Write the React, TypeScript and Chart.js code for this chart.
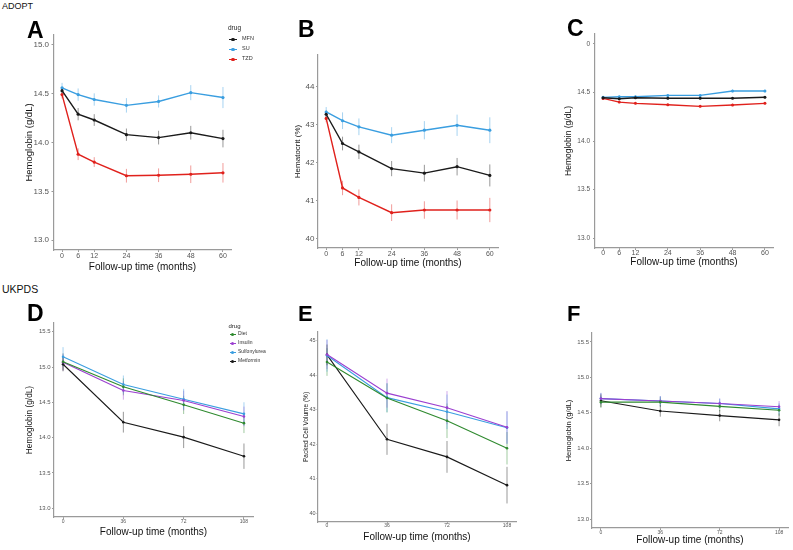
import React, { useEffect, useRef } from "react";
import { Chart, registerables } from "chart.js";
Chart.register(...registerables);

// ---------- data ----------
const adoptMonths = [0, 6, 12, 24, 36, 48, 60];
const ukpdsMonths = [0, 36, 72, 108];

// Panel A: ADOPT hemoglobin (g/dL)
const aMFN = [14.53, 14.29, 14.23, 14.08, 14.05, 14.1, 14.04];
const aMFNErr = [0.034, 0.063, 0.06, 0.063, 0.07, 0.07, 0.09];
const aSU = [14.56, 14.49, 14.44, 14.38, 14.42, 14.51, 14.46];
const aSUErr = [0.05, 0.063, 0.063, 0.074, 0.062, 0.077, 0.108];
const aTZD = [14.49, 13.88, 13.8, 13.66, 13.665, 13.675, 13.69];
const aTZDErr = [0.04, 0.06, 0.05, 0.07, 0.07, 0.09, 0.1];

// Panel B: ADOPT hematocrit (%)
const bMFN = [43.27, 42.5, 42.28, 41.84, 41.72, 41.89, 41.66];
const bMFNErr = [0.1, 0.18, 0.19, 0.2, 0.22, 0.23, 0.29];
const bSU = [43.33, 43.1, 42.94, 42.72, 42.85, 42.98, 42.85];
const bSUErr = [0.13, 0.22, 0.22, 0.21, 0.24, 0.28, 0.34];
const bTZD = [43.16, 41.33, 41.08, 40.68, 40.75, 40.75, 40.75];
const bTZDErr = [0.1, 0.19, 0.21, 0.22, 0.23, 0.25, 0.32];

// Panel C: ADOPT hemoglobin, adjusted
const cMFN = [14.445, 14.435, 14.445, 14.44, 14.44, 14.44, 14.449];
const cMFNErr = [0.012, 0.012, 0.012, 0.012, 0.012, 0.012, 0.012];
const cSU = [14.449, 14.455, 14.455, 14.469, 14.469, 14.514, 14.514];
const cSUErr = [0.012, 0.012, 0.012, 0.012, 0.012, 0.014, 0.014];
const cTZD = [14.438, 14.4, 14.387, 14.373, 14.356, 14.37, 14.387];
const cTZDErr = [0.012, 0.012, 0.012, 0.012, 0.012, 0.012, 0.012];

// Panel D: UKPDS hemoglobin (g/dL)
const dDiet = [15.075, 14.72, 14.465, 14.205];
const dDietErr = [0.12, 0.12, 0.13, 0.14];
const dInsulin = [15.07, 14.668, 14.526, 14.3];
const dInsulinErr = [0.12, 0.13, 0.14, 0.14];
const dSulf = [15.146, 14.753, 14.545, 14.337];
const dSulfErr = [0.137, 0.128, 0.146, 0.165];
const dMet = [15.04, 14.219, 14.007, 13.737];
const dMetErr = [0.1, 0.147, 0.155, 0.18];

// Panel E: UKPDS packed cell volume (%)
const eDiet = [44.38, 43.34, 42.68, 41.885];
const eDietErr = [0.4, 0.42, 0.5, 0.47];
const eInsulin = [44.6, 43.48, 43.06, 42.49];
const eInsulinErr = [0.42, 0.42, 0.48, 0.47];
const eSulf = [44.57, 43.35, 42.94, 42.48];
const eSulfErr = [0.47, 0.42, 0.5, 0.47];
const eMet = [44.587, 42.144, 41.635, 40.817];
const eMetErr = [0.3, 0.45, 0.46, 0.53];

// Panel F: UKPDS hemoglobin, adjusted
const fDiet = [14.65, 14.65, 14.59, 14.535];
const fDietErr = [0.08, 0.07, 0.07, 0.08];
const fInsulin = [14.7, 14.665, 14.63, 14.585];
const fInsulinErr = [0.08, 0.07, 0.07, 0.08];
const fSulf = [14.7, 14.665, 14.63, 14.555];
const fSulfErr = [0.08, 0.07, 0.07, 0.08];
const fMet = [14.67, 14.525, 14.46, 14.4];
const fMetErr = [0.09, 0.08, 0.08, 0.09];

// tick values / labels
const hbTicksAB = [13, 13.5, 14, 14.5, 15];
const hbLabelsA = ["13.0", "13.5", "14.0", "14.5", "15.0"];
const hbLabelsC = ["13.0", "13.5", "14.0", "14.5", "0"];
const hctTicks = [40, 41, 42, 43, 44];
const hctLabels = ["40", "41", "42", "43", "44"];
const hbTicksUK = [13, 13.5, 14, 14.5, 15, 15.5];
const hbLabelsUK = ["13.0", "13.5", "14.0", "14.5", "15.0", "15.5"];
const pcvTicks = [40, 41, 42, 43, 44, 45];
const pcvLabels = ["40", "41", "42", "43", "44", "45"];

const adoptDrugs = ["MFN", "SU", "TZD"];
const ukpdsDrugs = ["Diet", "Insulin", "Sulfonylurea", "Metformin"];

const xTitleText = "Follow-up time (months)";

// ---------- styles ----------
const FONT = "'Liberation Sans', Arial, Helvetica, sans-serif";
const COL = {
  black: "#1a1a1a",
  blue: "#3a9ee0",
  red: "#e0211c",
  green: "#2f8a2f",
  purple: "#9b3fd0",
};
const adoptColors = [COL.black, COL.blue, COL.red];
const ukpdsColors = [COL.green, COL.purple, COL.blue, COL.black];

type Series = { label: string; color: string; values: number[]; errors: number[] };
type PanelCfg = {
  area: { l: number; t: number; r: number; b: number };
  yMin: number; yMax: number; yTicks: number[]; yLabels: string[];
  xMin: number; xMax: number; xTicks: number[];
  yTitle: string; yTitleSize: number; yTitleX: number;
  yTickSize: number; yTickLen: number; yTickPad: number;
  xTickSize: number; xTickLen: number; xTickPad: number;
  xTitleY: number; xTitleSize: number;
  lineWidth: number; pointRadius: number;
  padRight?: number;
  series: Series[];
};

const errorBarPlugin = {
  id: "errorBars",
  beforeDatasetsDraw(chart: any) {
    const { ctx } = chart;
    const x = chart.scales.x;
    const y = chart.scales.y;
    chart.data.datasets.forEach((ds: any) => {
      const errs: number[] = ds.errors;
      if (!errs) return;
      ctx.save();
      ctx.strokeStyle = ds.errColor;
      ctx.lineWidth = 1;
      ds.data.forEach((p: any, j: number) => {
        const px = x.getPixelForValue(p.x);
        ctx.beginPath();
        ctx.moveTo(px, y.getPixelForValue(p.y - errs[j]));
        ctx.lineTo(px, y.getPixelForValue(p.y + errs[j]));
        ctx.stroke();
      });
      ctx.restore();
    });
  },
};

function hexA(hex: string, a: number) {
  const n = parseInt(hex.slice(1), 16);
  return `rgba(${(n >> 16) & 255},${(n >> 8) & 255},${n & 255},${a})`;
}

function Panel({ cfg, months }: { cfg: PanelCfg; months: number[] }) {
  const ref = useRef<HTMLCanvasElement>(null);
  const PT = 10;
  const PR = cfg.padRight ?? 6;
  const { l, t, r, b } = cfg.area;
  const lh = cfg.yTitleSize * 1.2;
  const canvasLeft = Math.round(cfg.yTitleX - lh / 2);
  const YW = l - canvasLeft;
  const canvasTop = t - PT;
  const xlh = cfg.xTitleSize * 1.2;
  const height = Math.round(cfg.xTitleY + xlh / 2 - canvasTop);
  const XH = height - (b - canvasTop);
  const width = Math.round(r + PR - canvasLeft);
  const padRightInner = width - (r - canvasLeft);

  useEffect(() => {
    if (!ref.current) return;
    const axisColor = "#9a9a9a";
    const chart = new Chart(ref.current, {
      type: "line",
      data: {
        datasets: cfg.series.map((s) => ({
          label: s.label,
          data: months.map((m, i) => ({ x: m, y: s.values[i] })),
          errors: s.errors,
          errColor: hexA(s.color, 0.45),
          borderColor: s.color,
          backgroundColor: s.color,
          borderWidth: cfg.lineWidth,
          pointRadius: cfg.pointRadius,
          pointBorderWidth: 0,
          pointBackgroundColor: s.color,
          tension: 0,
        })) as any,
      },
      options: {
        animation: false,
        responsive: false,
        maintainAspectRatio: false,
        devicePixelRatio: 1,
        layout: { padding: { left: 0, top: PT, right: padRightInner, bottom: 0 } },
        plugins: { legend: { display: false }, tooltip: { enabled: false } },
        scales: {
          x: {
            type: "linear",
            min: cfg.xMin,
            max: cfg.xMax,
            afterBuildTicks: (s: any) => {
              s.ticks = cfg.xTicks.map((v) => ({ value: v }));
            },
            afterFit: (s: any) => {
              s.height = XH;
            },
            ticks: {
              autoSkip: false,
              maxRotation: 0,
              minRotation: 0,
              padding: cfg.xTickPad,
              color: "#555",
              font: { family: FONT, size: cfg.xTickSize },
              callback: (v: any) => String(v),
            },
            grid: {
              display: true,
              drawOnChartArea: false,
              drawTicks: true,
              tickLength: cfg.xTickLen,
              tickColor: axisColor,
              tickWidth: 1,
            },
            border: { display: true, color: axisColor, width: 1.2 },
            title: {
              display: true,
              text: xTitleText,
              color: "#111",
              padding: 0,
              font: { family: FONT, size: cfg.xTitleSize },
            },
          },
          y: {
            type: "linear",
            min: cfg.yMin,
            max: cfg.yMax,
            afterBuildTicks: (s: any) => {
              s.ticks = cfg.yTicks.map((v) => ({ value: v }));
            },
            afterFit: (s: any) => {
              s.width = YW;
            },
            ticks: {
              autoSkip: false,
              padding: cfg.yTickPad,
              color: "#555",
              font: { family: FONT, size: cfg.yTickSize },
              callback: (v: any) => {
                const i = cfg.yTicks.indexOf(Number(v));
                return i >= 0 ? cfg.yLabels[i] : "";
              },
            },
            grid: {
              display: true,
              drawOnChartArea: false,
              drawTicks: true,
              tickLength: cfg.yTickLen,
              tickColor: axisColor,
              tickWidth: 1,
            },
            border: { display: true, color: axisColor, width: 1.2 },
            title: {
              display: true,
              text: cfg.yTitle,
              color: "#111",
              padding: 0,
              font: { family: FONT, size: cfg.yTitleSize },
            },
          },
        },
      } as any,
      plugins: [errorBarPlugin as any],
    });
    return () => chart.destroy();
  }, []);

  return (
    <canvas
      ref={ref}
      width={width}
      height={height}
      style={{ position: "absolute", left: canvasLeft, top: canvasTop, width, height }}
    />
  );
}

function Txt({ x, y, size, text, bold, color }: { x: number; y: number; size: number; text: string; bold?: boolean; color?: string }) {
  // y = top of capital letters
  const top = y - size * 0.13;
  return (
    <div
      style={{
        position: "absolute",
        left: x,
        top,
        fontSize: size,
        lineHeight: `${size}px`,
        fontWeight: bold ? 700 : 400,
        fontFamily: FONT,
        color: color ?? "#111",
        whiteSpace: "nowrap",
      }}
    >
      {text}
    </div>
  );
}

function Legend({ x, titleY, rows, labels, colors, titleSize, size, lineW, textX }: any) {
  return (
    <>
      <div style={{ position: "absolute", left: x, top: titleY - titleSize / 2, fontSize: titleSize, lineHeight: `${titleSize}px`, fontFamily: FONT, color: "#222" }}>drug</div>
      {labels.map((lab: string, i: number) => (
        <React.Fragment key={lab}>
          <div style={{ position: "absolute", left: x + 1, top: rows[i] - 0.5, width: lineW, height: 1.2, background: colors[i] }} />
          <div style={{ position: "absolute", left: x + 1 + lineW / 2 - 1.6, top: rows[i] - 1.5, width: 3.2, height: 3.2, borderRadius: "50%", background: colors[i] }} />
          <div style={{ position: "absolute", left: textX, top: rows[i] - size / 2 - 0.3, fontSize: size, lineHeight: `${size}px`, fontFamily: FONT, color: "#333", whiteSpace: "nowrap" }}>{lab}</div>
        </React.Fragment>
      ))}
    </>
  );
}

const mk = (labels: string[], colors: string[], vals: number[][], errs: number[][]): Series[] =>
  labels.map((lab, i) => ({ label: lab, color: colors[i], values: vals[i], errors: errs[i] }));

const panelA: PanelCfg = {
  area: { l: 54, t: 35, r: 231, b: 250 },
  yMin: 12.9, yMax: 15.1, yTicks: hbTicksAB, yLabels: hbLabelsA,
  xMin: -3, xMax: 63, xTicks: adoptMonths,
  yTitle: "Hemoglobin (g/dL)", yTitleSize: 9.5, yTitleX: 30,
  yTickSize: 8, yTickLen: 2.5, yTickPad: 2.5,
  xTickSize: 7, xTickLen: 2, xTickPad: 0,
  xTitleY: 267, xTitleSize: 10,
  lineWidth: 1.4, pointRadius: 1.6,
  series: mk(adoptDrugs, adoptColors, [aMFN, aSU, aTZD], [aMFNErr, aSUErr, aTZDErr]),
};
const panelB: PanelCfg = {
  area: { l: 318, t: 55, r: 498, b: 248 },
  yMin: 39.75, yMax: 44.83, yTicks: hctTicks, yLabels: hctLabels,
  xMin: -3, xMax: 63, xTicks: adoptMonths,
  yTitle: "Hematocrit (%)", yTitleSize: 8, yTitleX: 298,
  yTickSize: 8, yTickLen: 2, yTickPad: 1.5,
  xTickSize: 7, xTickLen: 2, xTickPad: 0,
  xTitleY: 262.5, xTitleSize: 10,
  lineWidth: 1.4, pointRadius: 1.6,
  series: mk(adoptDrugs, adoptColors, [bMFN, bSU, bTZD], [bMFNErr, bSUErr, bTZDErr]),
};
const panelC: PanelCfg = {
  area: { l: 595, t: 34, r: 773, b: 248 },
  yMin: 12.9, yMax: 15.1, yTicks: hbTicksAB, yLabels: hbLabelsC,
  xMin: -3, xMax: 63, xTicks: adoptMonths,
  yTitle: "Hemoglobin (g/dL)", yTitleSize: 8.5, yTitleX: 569,
  yTickSize: 6.5, yTickLen: 2, yTickPad: 3,
  xTickSize: 7, xTickLen: 2, xTickPad: -1,
  xTitleY: 262, xTitleSize: 10,
  lineWidth: 1.4, pointRadius: 1.5,
  series: mk(adoptDrugs, adoptColors, [cMFN, cSU, cTZD], [cMFNErr, cSUErr, cTZDErr]),
};
const panelD: PanelCfg = {
  area: { l: 54, t: 323, r: 253, b: 517 },
  yMin: 12.875, yMax: 15.625, yTicks: hbTicksUK, yLabels: hbLabelsUK,
  xMin: -5.4, xMax: 113.4, xTicks: ukpdsMonths,
  yTitle: "Hemoglobin (g/dL)", yTitleSize: 8.3, yTitleX: 29.5,
  yTickSize: 6, yTickLen: 2, yTickPad: 1.3,
  xTickSize: 5, xTickLen: 2, xTickPad: 0,
  xTitleY: 532, xTitleSize: 10,
  lineWidth: 1.1, pointRadius: 1.3,
  series: mk(ukpdsDrugs, ukpdsColors, [dDiet, dInsulin, dSulf, dMet], [dDietErr, dInsulinErr, dSulfErr, dMetErr]),
};
const panelE: PanelCfg = {
  area: { l: 318, t: 332, r: 516, b: 522 },
  yMin: 39.75, yMax: 45.25, yTicks: pcvTicks, yLabels: pcvLabels,
  xMin: -5.4, xMax: 113.4, xTicks: ukpdsMonths,
  yTitle: "Packed Cell Volume (%)", yTitleSize: 6.5, yTitleX: 305.7,
  yTickSize: 5.5, yTickLen: 1.5, yTickPad: 1,
  xTickSize: 5, xTickLen: 1.5, xTickPad: -0.5,
  xTitleY: 537, xTitleSize: 10,
  lineWidth: 1.1, pointRadius: 1.3,
  series: mk(ukpdsDrugs, ukpdsColors, [eDiet, eInsulin, eSulf, eMet], [eDietErr, eInsulinErr, eSulfErr, eMetErr]),
};
const panelF: PanelCfg = {
  area: { l: 592, t: 333, r: 789, b: 528 },
  yMin: 12.875, yMax: 15.625, yTicks: hbTicksUK, yLabels: hbLabelsUK,
  xMin: -5.4, xMax: 113.4, xTicks: ukpdsMonths,
  yTitle: "Hemoglobin (g/dL)", yTitleSize: 7.5, yTitleX: 568,
  yTickSize: 6, yTickLen: 2, yTickPad: 1,
  xTickSize: 5, xTickLen: 2, xTickPad: 0,
  xTitleY: 540, xTitleSize: 10,
  lineWidth: 1.1, pointRadius: 1.3,
  padRight: 3,
  series: mk(ukpdsDrugs, ukpdsColors, [fDiet, fInsulin, fSulf, fMet], [fDietErr, fInsulinErr, fSulfErr, fMetErr]),
};

export default function App() {
  return (
    <div
      style={{
        position: "absolute",
        left: 0,
        top: 0,
        width: 793,
        height: 550,
        background: "#fff",
        overflow: "hidden",
        fontFamily: FONT,
      }}
    >
      <Panel cfg={panelA} months={adoptMonths} />
      <Panel cfg={panelB} months={adoptMonths} />
      <Panel cfg={panelC} months={adoptMonths} />
      <Panel cfg={panelD} months={ukpdsMonths} />
      <Panel cfg={panelE} months={ukpdsMonths} />
      <Panel cfg={panelF} months={ukpdsMonths} />

      <Txt x={2} y={2.7} size={9} text="ADOPT" />
      <Txt x={2} y={285} size={10.5} text="UKPDS" />

      <Txt x={27} y={21.7} size={23} text="A" bold color="#000" />
      <Txt x={298} y={20.5} size={23} text="B" bold color="#000" />
      <Txt x={567} y={20} size={23} text="C" bold color="#000" />
      <Txt x={27} y={305} size={23} text="D" bold color="#000" />
      <Txt x={298} y={306} size={22} text="E" bold color="#000" />
      <Txt x={567} y={306} size={22} text="F" bold color="#000" />

      <Legend x={228} titleY={28} rows={[39, 49, 59]} labels={adoptDrugs} colors={adoptColors} titleSize={6.5} size={5.5} lineW={8} textX={242} />
      <Legend x={228.5} titleY={326} rows={[334, 343, 352, 361]} labels={ukpdsDrugs} colors={ukpdsColors} titleSize={6} size={5} lineW={6.5} textX={238} />
    </div>
  );
}
